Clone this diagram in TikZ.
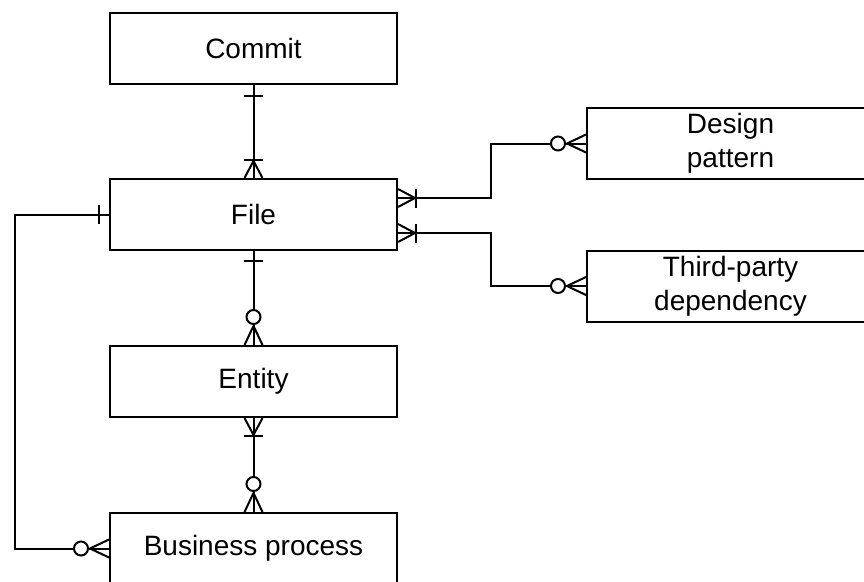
\documentclass[tikz,border=0pt]{standalone}
\usepackage{fontspec}
\setmainfont{Liberation Sans}
\usetikzlibrary{calc}

% ER notation markers; #1 = anchor point, #2 = outward direction (deg)
\newcommand{\crowfoot}[3]{\draw[shift={(#1)},rotate=#2] (0,-9) -- (#3,0) -- (0,9);}
\newcommand{\onebar}[3]{\draw[shift={(#1)},rotate=#2] (#3,-9.5) -- (#3,9.5);}
\newcommand{\zerocirc}[3]{\draw[fill=white,shift={(#1)},rotate=#2] (#3,0) circle (7);}

\begin{document}
\begin{tikzpicture}[x=1pt,y=1pt,line width=2pt,
  entity/.style={draw, inner sep=0pt, minimum width=287pt, minimum height=71pt,
    align=center, font=\fontsize{28}{34}\selectfont}]
\useasboundingbox (0,0) rectangle (864,-581);
\clip (0,0) rectangle (864,-581);

\node[entity] (commit) at (253.5,-48) {Commit};
\node[entity] (file) at (253.5,-214.5) {File};
\node[entity] (ent) at (253.5,-381.5) {Entity};
\node[entity] (bp) at (253.5,-548.5) {Business process};
\node[entity] (design) at (730.5,-143.5) {Design\\pattern};
\node[entity] (third) at (730.5,-286) {Third-party\\dependency};

\coordinate (elbow) at (491,0);
\coordinate (leftx) at (15,0);

% Commit -- File
\draw (file.north) -- (commit.south);
\onebar{commit.south}{-90}{11}
\crowfoot{file.north}{90}{17}
\onebar{file.north}{90}{18}

% File -- Entity
\draw (file.south) -- (ent.north);
\onebar{file.south}{-90}{10}
\crowfoot{ent.north}{90}{19}
\zerocirc{ent.north}{90}{28}

% Entity -- Business process
\draw (ent.south) -- (bp.north);
\crowfoot{ent.south}{-90}{17}
\onebar{ent.south}{-90}{18}
\crowfoot{bp.north}{90}{19}
\zerocirc{bp.north}{90}{28}

% File -- Design pattern
\coordinate (fd) at ($(file.east)+(0,16.5)$);
\draw (fd) -- (fd -| elbow) |- (design.west);
\crowfoot{fd}{0}{17}
\onebar{fd}{0}{18}
\crowfoot{design.west}{180}{19}
\zerocirc{design.west}{180}{28}

% File -- Third-party dependency
\coordinate (ft) at ($(file.east)+(0,-18.5)$);
\draw (ft) -- (ft -| elbow) |- (third.west);
\crowfoot{ft}{0}{17}
\onebar{ft}{0}{18}
\crowfoot{third.west}{180}{19}
\zerocirc{third.west}{180}{28}

% File -- Business process (left loop)
\draw (file.west) -- (file.west -| leftx) |- (bp.west);
\onebar{file.west}{180}{10}
\crowfoot{bp.west}{180}{19}
\zerocirc{bp.west}{180}{28}
\end{tikzpicture}
\end{document}
